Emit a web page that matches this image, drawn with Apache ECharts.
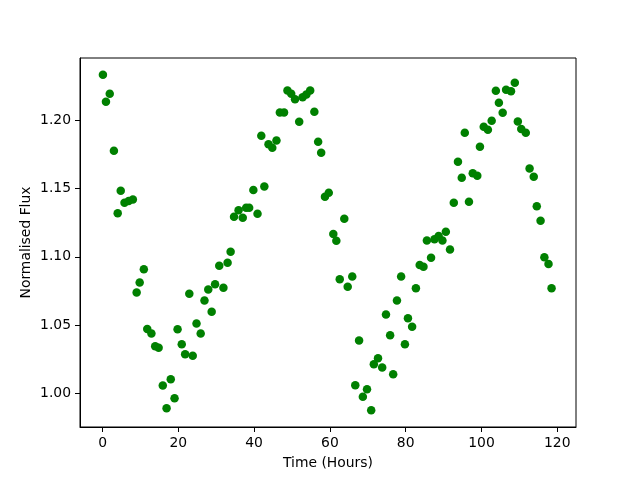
<!DOCTYPE html>
<html>
<head>
<meta charset="utf-8">
<script src="https://cdn.jsdelivr.net/npm/echarts@6/dist/echarts.min.js"></script>
<style>
    html, body { margin: 0; padding: 0; background: #fff; }
    #chart { width: 640px; height: 480px; }
</style>
</head>
<body>
<div id="chart"></div>
<script>
const hours = [
    0.1, 0.9, 1.9, 3.0, 4.0, 4.8, 5.8, 6.9, 8.0, 9.0,
    9.8, 10.9, 11.8, 12.9, 13.9, 14.8, 15.9, 16.9, 18.0, 19.0,
    19.8, 20.9, 21.8, 22.9, 23.8, 24.8, 25.9, 26.9, 27.9, 28.8,
    29.7, 30.8, 31.9, 33.0, 33.8, 34.7, 35.9, 37.0, 37.9, 38.7,
    39.8, 40.9, 41.9, 42.7, 43.8, 44.8, 45.9, 46.8, 47.9, 48.8,
    49.8, 50.8, 51.9, 52.8, 53.8, 54.8, 55.9, 56.9, 57.7, 58.7,
    59.7, 60.9, 61.7, 62.6, 63.8, 64.7, 65.9, 66.7, 67.7, 68.7,
    69.8, 70.9, 71.6, 72.7, 73.8, 74.8, 75.9, 76.7, 77.7, 78.8,
    79.8, 80.6, 81.7, 82.7, 83.7, 84.7, 85.6, 86.7, 87.6, 88.7,
    89.7, 90.6, 91.7, 92.7, 93.8, 94.8, 95.6, 96.7, 97.7, 98.9,
    99.6, 100.6, 101.7, 102.7, 103.8, 104.6, 105.6, 106.5, 107.8, 108.8,
    109.6, 110.5, 111.7, 112.7, 113.8, 114.6, 115.6, 116.6, 117.7, 118.5
];
const flux = [
    1.2335, 1.2137, 1.2196, 1.1778, 1.1319, 1.1485, 1.1397, 1.1409, 1.1421, 1.0738,
    1.0811, 1.0908, 1.0471, 1.0437, 1.0344, 1.0334, 1.0056, 0.9890, 1.0103, 0.9963,
    1.0469, 1.0359, 1.0286, 1.0730, 1.0275, 1.0511, 1.0437, 1.0679, 1.0760, 1.0598,
    1.0799, 1.0935, 1.0774, 1.0957, 1.1038, 1.1294, 1.1341, 1.1287, 1.1360, 1.1360,
    1.1490, 1.1316, 1.1888, 1.1516, 1.1826, 1.1800, 1.1853, 1.2059, 1.2059, 1.2220,
    1.2196, 1.2155, 1.1990, 1.2170, 1.2190, 1.2220, 1.2064, 1.1843, 1.1763, 1.1440,
    1.1470, 1.1167, 1.1118, 1.0835, 1.1280, 1.0781, 1.0855, 1.0059, 1.0386, 0.9973,
    1.0029, 0.9875, 1.0212, 1.0256, 1.0188, 1.0577, 1.0425, 1.0139, 1.0679, 1.0855,
    1.0359, 1.0549, 1.0488, 1.0769, 1.0940, 1.0928, 1.1119, 1.0994, 1.1128, 1.1152,
    1.1119, 1.1184, 1.1053, 1.1397, 1.1697, 1.1580, 1.1909, 1.1404, 1.1612, 1.1595,
    1.1807, 1.1953, 1.1931, 1.1997, 1.2218, 1.2129, 1.2056, 1.2225, 1.2215, 1.2276,
    1.1993, 1.1937, 1.1909, 1.1648, 1.1587, 1.1370, 1.1265, 1.0996, 1.0947, 1.0769
];
const xTicks = [0, 20, 40, 60, 80, 100, 120];
const yTicks = [1.00, 1.05, 1.10, 1.15, 1.20];

function drawScatter(id) {
    var chart = echarts.init(document.getElementById(id));
    let points = [];
    $each(hours, function (i, h) {
        points.push([h, flux[i]]);
    });

    const font = 'DejaVu Sans';
    const axisLine = { show: true, onZero: false, lineStyle: { color: '#000', width: 1 } };

    chart.setOption({
        animation: false,
        textStyle: { fontFamily: font },
        grid: {
            left: 80,
            right: 64,
            top: 58,
            bottom: 53,
            show: true,
            borderColor: '#000',
            borderWidth: 1
        },
        xAxis: {
            type: 'value',
            min: -5.95,
            max: 124.95,
            name: 'Time (Hours)',
            nameLocation: 'middle',
            nameGap: 29,
            nameMoveOverlap: false,
            nameTextStyle: { color: '#000', fontSize: 13.9, fontFamily: font },
            axisLine: axisLine,
            splitLine: { show: false },
            axisTick: { show: true, inside: false, length: 5, customValues: xTicks, lineStyle: { color: '#000' } },
            axisLabel: { color: '#000', fontSize: 13.9, fontFamily: font, margin: 9, customValues: xTicks }
        },
        yAxis: {
            type: 'value',
            min: 0.9752,
            max: 1.2458,
            name: 'Normalised Flux',
            nameLocation: 'middle',
            nameGap: 47,
            nameMoveOverlap: false,
            nameTextStyle: { color: '#000', fontSize: 13.9, fontFamily: font },
            axisLine: axisLine,
            splitLine: { show: false },
            axisTick: { show: true, inside: false, length: 5, customValues: yTicks, lineStyle: { color: '#000' } },
            axisLabel: {
                color: '#000',
                fontSize: 13.9,
                fontFamily: font,
                margin: 9,
                customValues: yTicks,
                formatter: function (v) { return v.toFixed(2); }
            }
        },
        series: [{
            type: 'scatter',
            symbol: 'circle',
            symbolSize: 8.5,
            itemStyle: { color: '#008000', opacity: 1 },
            data: points
        }]
    });
}

function $each(arr, fn) {
    for (let i = 0; i < arr.length; i++) {
        fn(i, arr[i]);
    }
}

drawScatter('chart');
</script>
</body>
</html>
